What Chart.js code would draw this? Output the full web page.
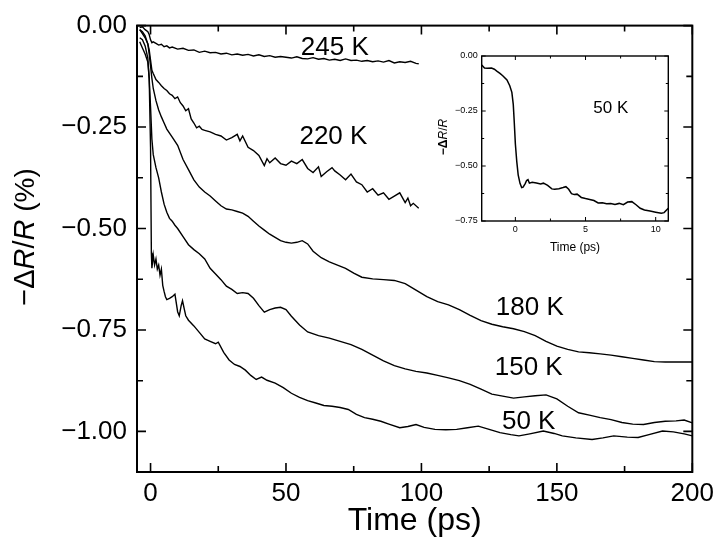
<!DOCTYPE html>
<html>
<head>
<meta charset="utf-8">
<script src="https://cdn.jsdelivr.net/npm/chart.js@4.4.1/dist/chart.umd.min.js"></script>
<style>
  html, body { margin: 0; padding: 0; background: #fff; }
  #wrap { position: relative; width: 720px; height: 545px; }
  #main { position: absolute; left: 0; top: 0; }
  #inset { position: absolute; left: 436px; top: 46px; }
</style>
</head>
<body>
<div id="wrap">
  <canvas id="main" width="720" height="545"></canvas>
  <canvas id="inset" width="240" height="215"></canvas>
</div>
<script>
// ---------------- DATA ----------------
// main chart: time in ps, signal -dR/R in %
const t245 = [-4,-3,-2,-1,-0.5,0,0.5,1,2,3,4,5,6,7,8,10,12,14,16,18,20,22,24,26,28,30,32,34,36,38,40,42,44,46,48,50,52,54,56,58,60,62,64,66,68,70,72,74,76,78,80,82,84,86,88,90,92,94,96,98,99];
const v245 = [-0.005,-0.003,-0.010,-0.015,-0.022,-0.035,-0.042,-0.040,-0.044,-0.048,-0.046,-0.052,-0.050,-0.055,-0.053,-0.058,-0.056,-0.061,-0.060,-0.066,-0.063,-0.067,-0.066,-0.070,-0.068,-0.072,-0.070,-0.073,-0.071,-0.075,-0.072,-0.076,-0.074,-0.078,-0.076,-0.078,-0.080,-0.077,-0.081,-0.082,-0.079,-0.083,-0.081,-0.085,-0.083,-0.086,-0.082,-0.086,-0.085,-0.088,-0.086,-0.089,-0.087,-0.090,-0.086,-0.092,-0.089,-0.091,-0.088,-0.093,-0.094];

const t220 = [-4,-3,-2,-1,-0.5,0,0.5,1,2,3,4,5,6,7,8,9,10,11,12,13,14,15,16,17,18,19,20,22,24,26,28,30,32,33,34,36,38,40,42,43,44,46,48,50,52,54,56,58,60,62,63,65,67,68,70,72,74,76,78,80,82,84,86,88,90,92,94,95,96,97,99];
const v220 = [-0.010,-0.020,-0.030,-0.045,-0.060,-0.085,-0.110,-0.118,-0.133,-0.140,-0.148,-0.155,-0.160,-0.168,-0.172,-0.180,-0.176,-0.190,-0.198,-0.210,-0.205,-0.230,-0.240,-0.252,-0.248,-0.256,-0.258,-0.262,-0.268,-0.272,-0.282,-0.276,-0.268,-0.284,-0.272,-0.300,-0.308,-0.320,-0.345,-0.328,-0.338,-0.326,-0.340,-0.344,-0.334,-0.340,-0.330,-0.352,-0.362,-0.348,-0.372,-0.360,-0.350,-0.358,-0.368,-0.380,-0.366,-0.385,-0.392,-0.410,-0.402,-0.418,-0.412,-0.428,-0.420,-0.412,-0.436,-0.425,-0.444,-0.438,-0.450];

const t180 = [-4,-3,-2,-1,-0.5,0,0.5,1,2,3,4,5,6,8,10,12,14,16,18,20,22,24,26,28,30,32,34,36,38,40,42,44,46,48,50,52,54,56,58,60,63,66,69,72,75,78,82,86,90,94,98,102,106,110,114,118,122,126,130,134,138,142,146,150,154,158,162,166,170,174,178,182,186,190,195,200];
const v180 = [-0.010,-0.015,-0.025,-0.045,-0.070,-0.100,-0.130,-0.155,-0.185,-0.208,-0.225,-0.240,-0.255,-0.275,-0.295,-0.330,-0.355,-0.380,-0.398,-0.410,-0.420,-0.432,-0.444,-0.452,-0.454,-0.458,-0.462,-0.470,-0.482,-0.494,-0.504,-0.514,-0.522,-0.530,-0.534,-0.536,-0.534,-0.530,-0.538,-0.556,-0.572,-0.582,-0.590,-0.598,-0.610,-0.620,-0.624,-0.626,-0.628,-0.636,-0.652,-0.668,-0.680,-0.688,-0.700,-0.714,-0.727,-0.736,-0.742,-0.747,-0.754,-0.764,-0.778,-0.790,-0.798,-0.804,-0.806,-0.809,-0.812,-0.816,-0.820,-0.824,-0.828,-0.829,-0.829,-0.829];

const t150 = [-4,-3,-2,-1,-0.5,0,0.5,1,2,3,4,5,6,7,8,9,10,12,14,16,18,20,22,24,26,28,30,32,34,36,38,40,42,44,46,48,50,52,55,58,62,66,70,74,78,82,86,90,94,98,102,106,110,114,118,122,126,130,134,138,142,146,150,154,158,162,166,170,174,178,182,186,190,194,197,200];
const v150 = [-0.030,-0.035,-0.050,-0.080,-0.130,-0.200,-0.280,-0.318,-0.350,-0.375,-0.410,-0.440,-0.460,-0.475,-0.482,-0.492,-0.500,-0.520,-0.540,-0.552,-0.562,-0.575,-0.598,-0.612,-0.626,-0.642,-0.650,-0.660,-0.658,-0.660,-0.672,-0.690,-0.706,-0.700,-0.696,-0.694,-0.700,-0.716,-0.738,-0.755,-0.764,-0.770,-0.778,-0.786,-0.798,-0.812,-0.826,-0.838,-0.846,-0.852,-0.856,-0.862,-0.868,-0.875,-0.884,-0.896,-0.908,-0.913,-0.918,-0.915,-0.912,-0.910,-0.920,-0.938,-0.954,-0.960,-0.966,-0.971,-0.978,-0.982,-0.983,-0.978,-0.975,-0.974,-0.972,-0.979];

const t50 = [-4,-3,-2,-1,-0.5,0,0.3,0.5,1,1.5,2,2.5,3,3.5,4,4.5,5,5.5,6,7,8,9,10,10.6,11.3,11.8,12.5,13,14,16,18,20,22,24,25,27,29,31,33,35,37,39,41,43,46,49,52,55,58,61,64,67,70,73,76,79,82,85,88,92,95,98,101,105,109,113,117,121,125,129,133,136,140,145,149,152,157,163,167,171,176,180,184,189,193,197,200];
const v50 = [-0.040,-0.055,-0.070,-0.090,-0.130,-0.300,-0.560,-0.598,-0.565,-0.590,-0.575,-0.600,-0.590,-0.615,-0.600,-0.640,-0.655,-0.668,-0.675,-0.672,-0.668,-0.662,-0.705,-0.715,-0.690,-0.678,-0.700,-0.715,-0.726,-0.740,-0.756,-0.772,-0.778,-0.784,-0.780,-0.805,-0.824,-0.835,-0.840,-0.849,-0.862,-0.872,-0.866,-0.874,-0.881,-0.892,-0.906,-0.916,-0.924,-0.930,-0.936,-0.938,-0.941,-0.946,-0.958,-0.966,-0.970,-0.975,-0.982,-0.991,-0.988,-0.983,-0.990,-0.995,-0.996,-0.995,-0.991,-0.987,-0.995,-1.003,-1.008,-1.011,-1.006,-0.999,-1.005,-1.011,-1.016,-1.020,-1.016,-1.011,-1.014,-1.015,-1.008,-0.999,-1.001,-1.006,-1.011];

// inset: 50 K, early times
const tInset = [-2.4,-2.2,-2.0,-1.7,-1.5,-1.3,-1.1,-0.9,-0.6,-0.4,-0.25,-0.15,-0.08,0.0,0.1,0.2,0.33,0.45,0.55,0.7,0.8,0.9,1.0,1.2,1.5,1.8,2.0,2.3,2.6,2.8,3.1,3.4,3.6,3.8,4.0,4.2,4.4,4.7,5.0,5.3,5.6,5.9,6.2,6.5,6.8,7.1,7.4,7.7,8.0,8.3,8.6,8.9,9.2,9.6,10.0,10.4,10.6,10.9];
const vInset = [-0.041,-0.055,-0.056,-0.055,-0.060,-0.070,-0.079,-0.090,-0.109,-0.135,-0.165,-0.220,-0.300,-0.400,-0.480,-0.540,-0.579,-0.598,-0.596,-0.580,-0.566,-0.562,-0.578,-0.574,-0.577,-0.582,-0.578,-0.588,-0.604,-0.606,-0.603,-0.598,-0.594,-0.606,-0.626,-0.630,-0.628,-0.643,-0.648,-0.652,-0.657,-0.668,-0.667,-0.672,-0.670,-0.675,-0.670,-0.676,-0.664,-0.662,-0.676,-0.692,-0.700,-0.705,-0.710,-0.715,-0.712,-0.692];

// curve labels: text and the data point they sit at
const curveLabels = ['245 K','220 K','180 K','150 K','50 K'];
const labelT = [68, 67.5, 140, 139.6, 139.6];
const labelV = [-0.054, -0.273, -0.695, -0.844, -0.976];
const insetLabels = ['50 K'];
const insetLabelT = [6.8];
const insetLabelV = [-0.236];

// tick values
const mainXMajor = [0,50,100,150,200];
const mainXMinor = [25,75,125,175];
const mainYMajor = [0,-0.25,-0.5,-0.75,-1.0];
const mainYMinor = [-0.125,-0.375,-0.625,-0.875];
const insetXMajor = [0,5,10];
const insetXMinor = [2.5,7.5];
const insetYMajor = [0,-0.25,-0.5,-0.75];
const insetYMinor = [-0.125,-0.375,-0.625];

// ---------------- HELPERS ----------------
const FONT = "'Liberation Sans', Arial, Helvetica, sans-serif";
const pts = (ts, vs) => ts.map((t, i) => ({x: t, y: vs[i]}));
const fmtY = v => (v < 0 ? '\u2212' : '') + Math.abs(v).toFixed(2);

const frameTicks = {
  id: 'frameTicks',
  afterDatasetsDraw(chart, args, o) {
    const {ctx, chartArea: a} = chart;
    const x = chart.scales.x, y = chart.scales.y;
    ctx.save();
    ctx.strokeStyle = '#000';
    ctx.lineWidth = o.tickWidth;
    ctx.beginPath();
    const xt = (vals, len) => vals.forEach(v => {
      const p = x.getPixelForValue(v);
      ctx.moveTo(p, a.bottom); ctx.lineTo(p, a.bottom - len);
      ctx.moveTo(p, a.top); ctx.lineTo(p, a.top + len);
    });
    const yt = (vals, len) => vals.forEach(v => {
      const p = y.getPixelForValue(v);
      ctx.moveTo(a.left, p); ctx.lineTo(a.left + len, p);
      ctx.moveTo(a.right, p); ctx.lineTo(a.right - len, p);
    });
    xt(o.xMajor, o.majorLen); xt(o.xMinor, o.minorLen);
    yt(o.yMajor, o.majorLen); yt(o.yMinor, o.minorLen);
    ctx.stroke();
    ctx.lineWidth = o.frameWidth;
    ctx.strokeRect(a.left, a.top, a.right - a.left, a.bottom - a.top);
    ctx.restore();
  }
};

const textLabels = {
  id: 'textLabels',
  afterDatasetsDraw(chart, args, o) {
    const {ctx} = chart;
    const x = chart.scales.x, y = chart.scales.y;
    ctx.save();
    ctx.fillStyle = '#000';
    ctx.font = o.font;
    ctx.textAlign = 'center';
    ctx.textBaseline = 'middle';
    o.texts.forEach((s, i) => ctx.fillText(s, x.getPixelForValue(o.ts[i]), y.getPixelForValue(o.vs[i])));
    ctx.restore();
  }
};

// rotated y-axis title made of pieces with different font styles
const yTitle = {
  id: 'yTitle',
  afterDraw(chart, args, o) {
    const {ctx} = chart;
    ctx.save();
    ctx.fillStyle = '#000';
    ctx.textBaseline = 'middle';
    ctx.textAlign = 'left';
    let w = 0;
    const widths = o.parts.map(p => { ctx.font = p[1]; const m = ctx.measureText(p[0]).width; w += m; return m; });
    ctx.translate(o.cx, o.cy);
    ctx.rotate(-Math.PI / 2);
    let xx = -w / 2;
    o.parts.forEach((p, i) => { ctx.font = p[1]; ctx.fillText(p[0], xx, 0); xx += widths[i]; });
    ctx.restore();
  }
};

function fixedTicks(vals) {
  return scale => { scale.ticks = vals.map(v => ({value: v})); };
}

// ---------------- MAIN CHART ----------------
const lineStyle = {borderColor: '#000', borderWidth: 1.4, pointRadius: 0, fill: false, tension: 0};
new Chart(document.getElementById('main'), {
  type: 'line',
  data: {
    datasets: [
      {label: '245 K', data: pts(t245, v245), ...lineStyle},
      {label: '220 K', data: pts(t220, v220), ...lineStyle},
      {label: '180 K', data: pts(t180, v180), ...lineStyle},
      {label: '150 K', data: pts(t150, v150), ...lineStyle},
      {label: '50 K', data: pts(t50, v50), ...lineStyle}
    ]
  },
  options: {
    responsive: false,
    devicePixelRatio: 1,
    animation: false,
    layout: {autoPadding: false, padding: {left: 0, top: 22, right: 23, bottom: 0}},
    plugins: {
      legend: {display: false},
      tooltip: {enabled: false},
      frameTicks: {xMajor: mainXMajor, xMinor: mainXMinor, yMajor: mainYMajor, yMinor: mainYMinor,
                   majorLen: 9, minorLen: 6, tickWidth: 1.6, frameWidth: 2},
      textLabels: {texts: curveLabels, ts: labelT, vs: labelV, font: `26px ${FONT}`},
      yTitle: {cx: 26, cy: 237, parts: [
        ['\u2212\u0394', `29px ${FONT}`], ['R', `italic 29px ${FONT}`], ['/', `29px ${FONT}`],
        ['R', `italic 29px ${FONT}`], [' (%)', `28px ${FONT}`]]}
    },
    scales: {
      x: {
        type: 'linear', min: -5, max: 200,
        afterBuildTicks: fixedTicks(mainXMajor),
        afterFit: s => { s.height = 73; },
        grid: {display: false, drawTicks: false}, border: {display: false},
        ticks: {color: '#000', font: {family: FONT, size: 26}, padding: 6, maxRotation: 0},
        title: {display: true, text: 'Time (ps)', color: '#000', font: {family: FONT, size: 32}, padding: {top: 0, bottom: 5}}
      },
      y: {
        type: 'linear', min: -1.1, max: 0,
        afterBuildTicks: fixedTicks(mainYMajor),
        afterFit: s => { s.width = 137; },
        grid: {display: false, drawTicks: false}, border: {display: false},
        ticks: {color: '#000', font: {family: FONT, size: 26}, padding: 10, callback: fmtY}
      }
    }
  },
  plugins: [frameTicks, textLabels, yTitle]
});

// ---------------- INSET CHART ----------------
new Chart(document.getElementById('inset'), {
  type: 'line',
  data: {datasets: [{label: '50 K', data: pts(tInset, vInset), borderColor: '#000', borderWidth: 1.5, pointRadius: 0, fill: false, tension: 0}]},
  options: {
    responsive: false,
    devicePixelRatio: 1,
    animation: false,
    layout: {autoPadding: false, padding: {left: 0, top: 10, right: 7.7, bottom: 0}},
    plugins: {
      legend: {display: false},
      tooltip: {enabled: false},
      frameTicks: {xMajor: insetXMajor, xMinor: insetXMinor, yMajor: insetYMajor, yMinor: insetYMinor,
                   majorLen: 4, minorLen: 2.5, tickWidth: 1, frameWidth: 1.4},
      textLabels: {texts: insetLabels, ts: insetLabelT, vs: insetLabelV, font: `17px ${FONT}`},
      yTitle: {cx: 8, cy: 91, parts: [
        ['\u2212', `bold 12px ${FONT}`], ['\u0394', `bold 12px ${FONT}`], ['R', `italic 12px ${FONT}`],
        ['/', `12px ${FONT}`], ['R', `italic 12px ${FONT}`]]}
    },
    scales: {
      x: {
        type: 'linear', min: -2.4, max: 10.9,
        afterBuildTicks: fixedTicks(insetXMajor),
        afterFit: s => { s.height = 40; },
        grid: {display: false, drawTicks: false}, border: {display: false},
        ticks: {color: '#000', font: {family: FONT, size: 9}, padding: 3, maxRotation: 0},
        title: {display: true, text: 'Time (ps)', color: '#000', font: {family: FONT, size: 12}, padding: {top: 0, bottom: 6}}
      },
      y: {
        type: 'linear', min: -0.75, max: 0,
        afterBuildTicks: fixedTicks(insetYMajor),
        afterFit: s => { s.width = 45.7; },
        grid: {display: false, drawTicks: false}, border: {display: false},
        ticks: {color: '#000', font: {family: FONT, size: 9}, padding: 4, callback: fmtY}
      }
    }
  },
  plugins: [frameTicks, textLabels, yTitle]
});
</script>
</body>
</html>
